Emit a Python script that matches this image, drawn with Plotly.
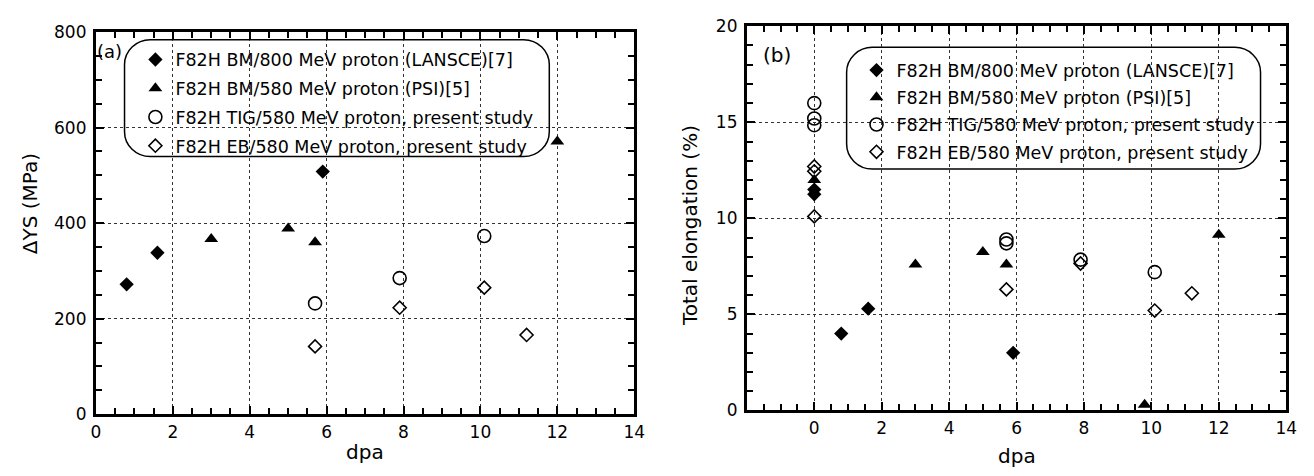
import plotly.graph_objects as go

W, H = 1314, 476

# ---------------- data ----------------
series_names = [
    "F82H BM/800 MeV proton (LANSCE)[7]",
    "F82H BM/580 MeV proton (PSI)[5]",
    "F82H TIG/580 MeV proton, present study",
    "F82H EB/580 MeV proton, present study",
]

# panel (a): yield stress increase (MPa) vs dpa
a_lansce_x = [0.8, 1.6, 5.9]
a_lansce_y = [272, 338, 508]
a_psi_x = [3.0, 5.0, 5.7, 12.0]
a_psi_y = [367, 389, 360, 571]
a_tig_x = [5.7, 7.9, 10.1]
a_tig_y = [232, 285, 373]
a_eb_x = [5.7, 7.9, 10.1, 11.2]
a_eb_y = [142, 223, 265, 166]

# panel (b): total elongation (%) vs dpa
b_lansce_x = [0, 0, 0.8, 1.6, 5.9]
b_lansce_y = [11.5, 11.25, 4.0, 5.3, 3.0]
b_psi_x = [0, 3.0, 5.0, 5.7, 9.8, 12.0]
b_psi_y = [12.0, 7.6, 8.25, 7.6, 0.3, 9.15]
b_tig_x = [0, 0, 0, 5.7, 5.7, 7.9, 10.1]
b_tig_y = [16.0, 15.2, 14.85, 8.9, 8.7, 7.85, 7.2]
b_eb_x = [0, 0, 0, 5.7, 7.9, 10.1, 11.2]
b_eb_y = [12.7, 12.45, 10.1, 6.3, 7.65, 5.2, 6.1]

a_xticks = [0, 2, 4, 6, 8, 10, 12, 14]
a_yticks = [0, 200, 400, 600, 800]
b_xticks = [0, 2, 4, 6, 8, 10, 12, 14]
b_yticks = [0, 5, 10, 15, 20]

# ---------------- styles ----------------
FONT = "DejaVu Sans"
styles = [
    dict(symbol="diamond", size=11, color="black", line=dict(width=0, color="black")),
    dict(symbol="triangle-up", size=12, color="black", line=dict(width=0, color="black")),
    dict(symbol="circle-open", size=13, color="black", line=dict(width=1.6, color="black")),
    dict(symbol="diamond-open", size=10, color="black", line=dict(width=1.6, color="black")),
]


def px_x(p):
    return p / W


def px_y(p):
    return 1 - p / H


fig = go.Figure()

a_sets = [(a_lansce_x, a_lansce_y), (a_psi_x, a_psi_y), (a_tig_x, a_tig_y), (a_eb_x, a_eb_y)]
b_sets = [(b_lansce_x, b_lansce_y), (b_psi_x, b_psi_y), (b_tig_x, b_tig_y), (b_eb_x, b_eb_y)]

for i, (xs, ys) in enumerate(a_sets):
    fig.add_trace(go.Scatter(
        x=xs, y=ys, mode="markers", name=series_names[i],
        marker=styles[i], xaxis="x", yaxis="y", legend="legend",
        legendgroup="a%d" % i, cliponaxis=False,
    ))
for i, (xs, ys) in enumerate(b_sets):
    fig.add_trace(go.Scatter(
        x=xs, y=ys, mode="markers", name=series_names[i],
        marker=styles[i], xaxis="x2", yaxis="y2", legend="legend2",
        legendgroup="b%d" % i, cliponaxis=False,
    ))

common_axis = dict(
    showline=True, linewidth=3, linecolor="black", mirror="allticks",
    ticks="inside", ticklen=8, tickwidth=2, tickcolor="black",
    showgrid=True, gridcolor="#333", gridwidth=1, griddash="dot",
    zeroline=False, tickfont=dict(family=FONT, size=17, color="black"),
    fixedrange=True, layer="above traces",
)


def minor(dt, t0):
    return dict(tick0=t0, dtick=dt, ticks="inside", ticklen=6,
                tickwidth=2, tickcolor="black", showgrid=False)


fig.update_layout(
    width=W, height=H,
    margin=dict(l=0, r=0, t=0, b=0),
    paper_bgcolor="white", plot_bgcolor="white",
    font=dict(family=FONT, color="black"),
    xaxis=dict(common_axis, domain=[px_x(92), px_x(637)], range=[0, 14],
               tickmode="linear", tick0=a_xticks[0], dtick=a_xticks[1] - a_xticks[0],
               anchor="y", minor=minor(0.5, 0)),
    yaxis=dict(common_axis, domain=[1 - 422 / H, 1 - 23 / H], range=[0, 800],
               tickmode="linear", tick0=a_yticks[0], dtick=a_yticks[1] - a_yticks[0],
               anchor="x", ticklabelstandoff=3, minor=minor(50, 0)),
    xaxis2=dict(common_axis, domain=[px_x(751), px_x(1297)], range=[-2, 14],
                tickmode="array", tickvals=b_xticks, anchor="y2",
                minor=minor(0.5, -2)),
    yaxis2=dict(common_axis, domain=[1 - 418 / H, 1 - 17 / H], range=[0, 20],
                tickmode="linear", tick0=b_yticks[0], dtick=b_yticks[1] - b_yticks[0],
                anchor="x2", ticklabelstandoff=3, minor=minor(1, 0)),
    legend=dict(x=px_x(132), y=px_y(33), xanchor="left", yanchor="top",
                bgcolor="rgba(0,0,0,0)", borderwidth=0, tracegroupgap=3,
                font=dict(family=FONT, size=17.5, color="black")),
    legend2=dict(x=px_x(862), y=px_y(44), xanchor="left", yanchor="top",
                 bgcolor="rgba(0,0,0,0)", borderwidth=0, tracegroupgap=1.5,
                 font=dict(family=FONT, size=17.5, color="black")),
    showlegend=True,
)


def rounded_box(x0, y0, x1, y1, r):
    k = 0.45

    def P(x, y):
        return "%.5f,%.5f" % (px_x(x), px_y(y))
    path = "M " + P(x0 + r, y0)
    path += " L " + P(x1 - r, y0)
    path += " C " + P(x1 - r * k, y0) + " " + P(x1, y0 + r * k) + " " + P(x1, y0 + r)
    path += " L " + P(x1, y1 - r)
    path += " C " + P(x1, y1 - r * k) + " " + P(x1 - r * k, y1) + " " + P(x1 - r, y1)
    path += " L " + P(x0 + r, y1)
    path += " C " + P(x0 + r * k, y1) + " " + P(x0, y1 - r * k) + " " + P(x0, y1 - r)
    path += " L " + P(x0, y0 + r)
    path += " C " + P(x0, y0 + r * k) + " " + P(x0 + r * k, y0) + " " + P(x0 + r, y0)
    path += " Z"
    return path


fig.add_shape(type="path", xref="paper", yref="paper", layer="between",
              path=rounded_box(121, 31, 551, 153, 26),
              fillcolor="white", line=dict(color="black", width=1.5))
fig.add_shape(type="path", xref="paper", yref="paper", layer="between",
              path=rounded_box(852, 39, 1271, 166, 26),
              fillcolor="white", line=dict(color="black", width=1.5))


def ann(text, x, y, size, angle=0):
    fig.add_annotation(text=text, x=px_x(x), y=px_y(y), xref="paper", yref="paper",
                       xanchor="center", yanchor="middle", showarrow=False,
                       textangle=angle, font=dict(family=FONT, size=size, color="black"))


ann("(a)", 106, 43, 18)
ann("(b)", 782, 47, 20)
ann("ΔYS (MPa)", 25, 202, 20, -90)
ann("Total elongation (%)", 693, 225, 20, -90)
ann("dpa", 364, 461, 20)
ann("dpa", 1024, 466, 20)

fig.write_html(
    "out.html",
    config={"displayModeBar": False},
    post_script="document.body.style.margin='0';document.body.style.overflow='hidden';",
)
